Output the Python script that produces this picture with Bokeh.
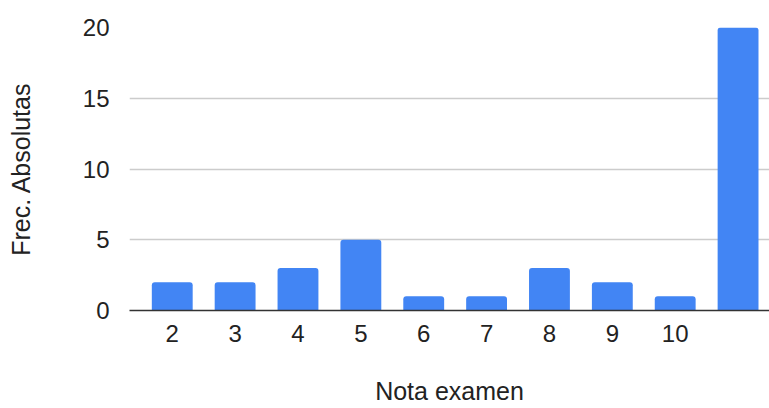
from bokeh.plotting import figure
from bokeh.models import Range1d, FixedTicker, ColumnDataSource
from bokeh.embed import file_html
from bokeh.resources import INLINE

categories = ["2", "3", "4", "5", "6", "7", "8", "9", "10", ""]
values = [2, 2, 3, 5, 1, 1, 3, 2, 1, 20]
y_ticks = [0, 5, 10, 15, 20]
x_title = "Nota examen"
y_title = "Frec. Absolutas"

positions = list(range(len(categories)))
src = ColumnDataSource(dict(x=positions, top=values))

FONT = "Liberation Sans"
TXT = "#222222"

p = figure(width=769, height=408, output_backend="svg", toolbar_location=None,
           x_range=Range1d(-0.68, 9.5), y_range=Range1d(0, 20),
           min_border_left=129, min_border_right=0, min_border_top=27,
           min_border_bottom=98)
p.outline_line_color = None

p.vbar(x="x", top="top", bottom=0, width=0.65, source=src,
       fill_color="#4285F4", line_color=None, border_radius=[3, 3, 0, 0])

# x axis
xa = p.xaxis[0]
xa.ticker = FixedTicker(ticks=positions)
xa.major_label_overrides = {i: c for i, c in zip(positions, categories)}
xa.axis_line_color = "#333333"
xa.axis_line_width = 1.5
xa.major_tick_line_color = None
xa.minor_tick_line_color = None
xa.major_label_standoff = 8
xa.major_label_text_font = FONT
xa.major_label_text_font_size = "24px"
xa.major_label_text_color = TXT
xa.axis_label = x_title
xa.axis_label_text_font = FONT
xa.axis_label_text_font_size = "25px"
xa.axis_label_text_font_style = "normal"
xa.axis_label_text_color = TXT
xa.axis_label_standoff = 32

# y axis
ya = p.yaxis[0]
ya.ticker = FixedTicker(ticks=y_ticks)
ya.axis_line_color = None
ya.major_tick_line_color = None
ya.minor_tick_line_color = None
ya.major_label_standoff = 14
ya.major_label_text_font = FONT
ya.major_label_text_font_size = "24px"
ya.major_label_text_color = TXT
ya.axis_label = y_title
ya.axis_label_text_font = FONT
ya.axis_label_text_font_size = "25px"
ya.axis_label_text_font_style = "normal"
ya.axis_label_text_color = TXT
ya.axis_label_standoff = 45

p.xgrid.grid_line_color = None
p.ygrid.grid_line_color = "#cccccc"
p.ygrid.grid_line_width = 1.5

open("out.html", "w").write(file_html(p, INLINE))
